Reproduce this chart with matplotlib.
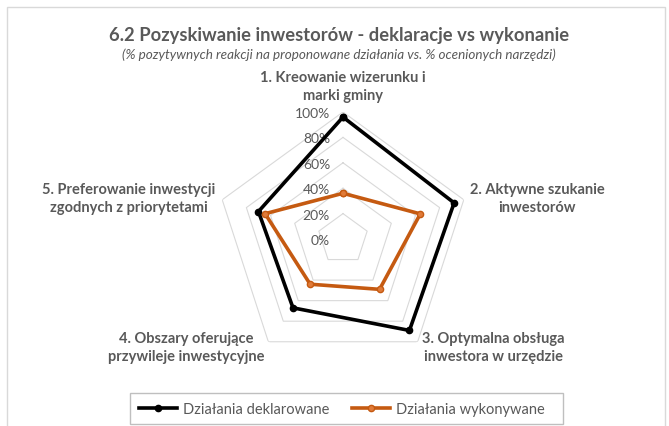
import numpy as np
import matplotlib
matplotlib.use("Agg")
import matplotlib.pyplot as plt
from matplotlib.lines import Line2D
from matplotlib.patches import Rectangle

categories = [
    "1. Kreowanie wizerunku i\nmarki gminy",
    "2. Aktywne szukanie\ninwestorów",
    "3. Optymalna obsługa\ninwestora w urzędzie",
    "4. Obszary oferujące\nprzywileje inwestycyjne",
    "5. Preferowanie inwestycji\nzgodnych z priorytetami",
]
declared = [0.96, 0.92, 0.89, 0.67, 0.70]
performed = [0.36, 0.64, 0.49, 0.44, 0.645]
ring_levels = [0.0, 0.2, 0.4, 0.6, 0.8, 1.0]
ring_labels = ["0%", "20%", "40%", "60%", "80%", "100%"]
series_names = ["Działania deklarowane", "Działania wykonywane"]

title = "6.2 Pozyskiwanie inwestorów - deklaracje vs wykonanie"
subtitle = "(% pozytywnych reakcji na proponowane działania vs. % ocenionych narzędzi)"

plt.rcParams["font.family"] = ["Lato", "DejaVu Sans"]
TXT = "#595959"
BLACK = "#000000"
ORANGE = "#C55A11"
ORANGE_FACE = "#E07B39"

W, H = 669, 427
fig = plt.figure(figsize=(W / 100, H / 100), dpi=100)


def fx(x):
    return x / W


def fy(y):
    return 1 - y / H


# chart area border
fig.patches.append(Rectangle((fx(7), fy(440)), fx(658), 432 / H, transform=fig.transFigure,
                             fill=False, edgecolor="#D9D9D9", lw=1.0))

cx, cy, R = 343, 240, 127
ax = fig.add_axes([fx(cx - R), fy(cy + R), 2 * R / W, 2 * R / H], projection="polar")
ax.set_theta_offset(np.pi / 2)
ax.set_theta_direction(-1)
ax.set_ylim(0, 1)
ax.grid(False)
ax.spines["polar"].set_visible(False)
ax.set_xticks([])
ax.set_yticks([])
ax.patch.set_alpha(0)

n = len(categories)
angles = np.linspace(0, 2 * np.pi, n, endpoint=False)
closed = np.append(angles, angles[0])

for lvl in ring_levels[1:]:
    ax.plot(closed, [lvl] * (n + 1), color="#D9D9D9", lw=0.8, zorder=1)

for lvl, lab in zip(ring_levels, ring_labels):
    ax.annotate(lab, xy=(0, lvl), xytext=(-13, -1), textcoords="offset pixels",
                ha="right", va="center", fontsize=10, color=TXT)

ax.plot(closed, declared + declared[:1], color=BLACK, lw=2.6, marker="o", ms=4.5,
        mfc=BLACK, mec=BLACK, zorder=3, clip_on=False)
ax.plot(closed, performed + performed[:1], color=ORANGE, lw=2.6, marker="o", ms=4.5,
        mfc=ORANGE_FACE, mec=ORANGE, zorder=4, clip_on=False)

# category labels
label_pos = [(343, 87), (537, 199), (493, 348), (186, 348), (129, 199)]
for text, (x, y) in zip(categories, label_pos):
    fig.text(fx(x), fy(y), text, ha="center", va="center", fontsize=10.5,
             fontweight="bold", color=TXT, linespacing=1.4)

fig.text(fx(339), fy(36), title, ha="center", va="center", fontsize=13.2,
         fontweight="bold", color=TXT)
fig.text(fx(339), fy(55), subtitle, ha="center", va="center", fontsize=9.7,
         style="italic", color=TXT)

# legend
fig.patches.append(Rectangle((fx(130), fy(425)), fx(433), 31 / H, transform=fig.transFigure,
                             fill=False, edgecolor="#BFBFBF", lw=1.0))
handles = [
    Line2D([], [], color=BLACK, lw=2.6, marker="o", ms=4.5, mfc=BLACK, mec=BLACK),
    Line2D([], [], color=ORANGE, lw=2.6, marker="o", ms=4.5, mfc=ORANGE_FACE, mec=ORANGE),
]
fig.legend(handles, series_names, loc="center", bbox_to_anchor=(fx(342), fy(410)),
           ncol=2, frameon=False, fontsize=10.5, handlelength=2.6, handletextpad=0.4,
           columnspacing=1.6, labelcolor=TXT)

fig.savefig("out.png", dpi=100)
